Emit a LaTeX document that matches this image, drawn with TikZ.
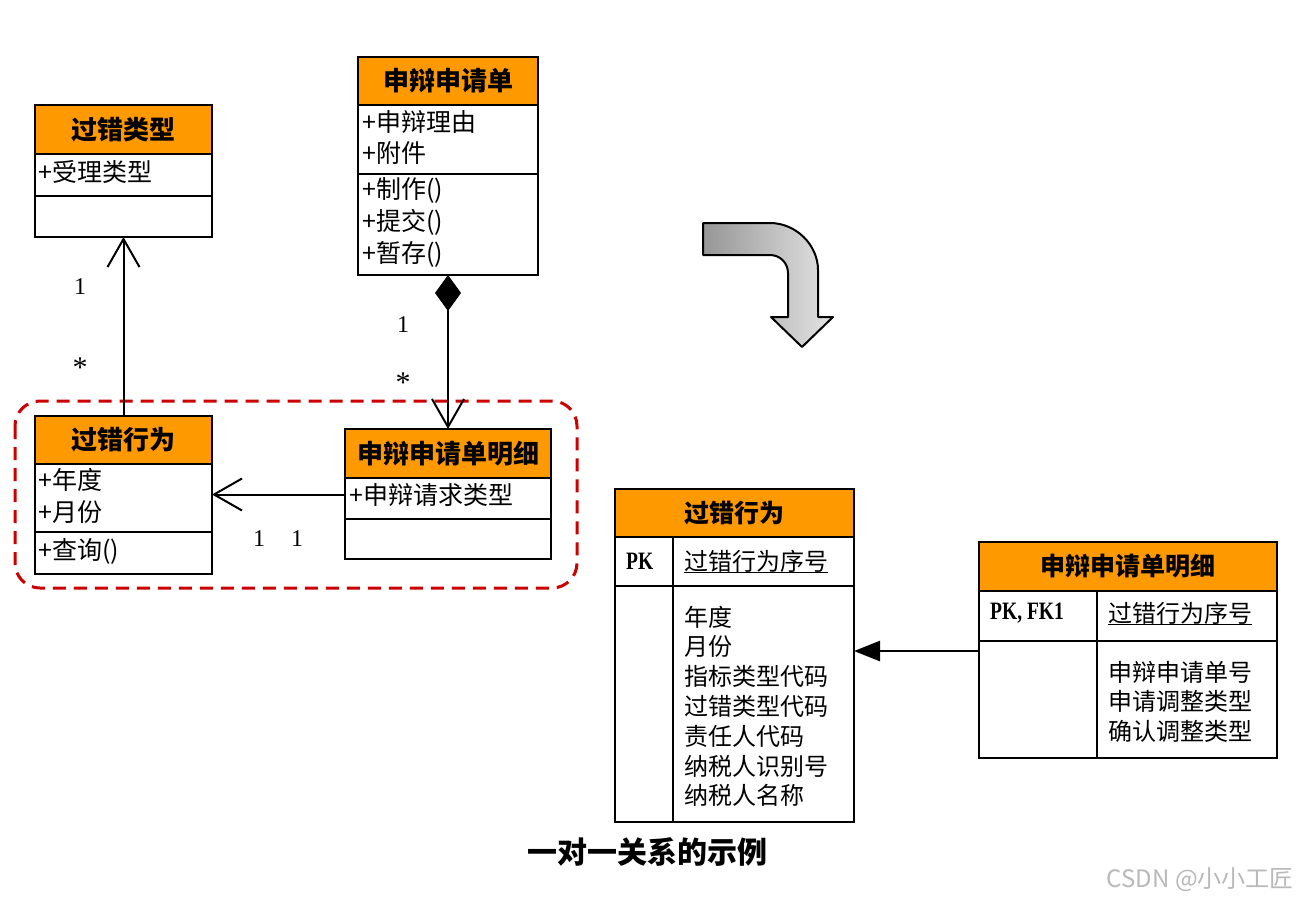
\documentclass[tikz,border=0pt]{standalone}
\usepackage{fontspec}
\setmainfont{Noto Sans CJK SC}
\newfontfamily\lat{Liberation Serif}
\usetikzlibrary{arrows.meta}
\definecolor{hdrorange}{RGB}{255,153,0}
\definecolor{dashred}{RGB}{204,0,0}
\definecolor{wmgray}{RGB}{185,185,185}
\definecolor{arrdark}{RGB}{150,150,150}
\definecolor{arrlight}{RGB}{228,228,228}
\tikzset{
  cbox/.style={draw, line width=2.5pt, fill=white, inner sep=0pt, outer sep=0pt, anchor=north west},
  hbox/.style={cbox, fill=hdrorange, font=\fontsize{26}{26}\selectfont\bfseries},
  tbox/.style={draw, line width=2pt, fill=white, inner sep=0pt, outer sep=0pt, anchor=north west},
  thbox/.style={tbox, fill=hdrorange, font=\fontsize{25}{25}\selectfont\bfseries},
  attr/.style={anchor=west, inner sep=0pt, font=\fontsize{25}{25}\selectfont},
  rowtxt/.style={anchor=west, inner sep=0pt, font=\fontsize{24}{24}\selectfont},
  mult/.style={inner sep=0pt, font=\lat\fontsize{24}{24}\selectfont},
  star/.style={inner sep=0pt, font=\lat\fontsize{30}{30}\selectfont},
  pk/.style={anchor=west, inner sep=0pt, xscale=0.78, font=\lat\bfseries\fontsize{25}{25}\selectfont},
  umlline/.style={line width=2pt},
  openhead/.style={-{Straight Barb[length=28pt,width=32pt]}},
}
\begin{document}
\begin{tikzpicture}[x=1pt,y=-1pt]
\fill[white] (0,0) rectangle (1298,902);
\useasboundingbox (0,0) rectangle (1298,902);

% dashed group
\draw[dashred, line width=3pt, dash pattern=on 13pt off 8pt, rounded corners=25pt] (15,401) rectangle (577,588);

% class A: 过错类型
\node[cbox, minimum width=177pt, minimum height=42pt] (A-a) at (35,154) {};
\node[cbox, minimum width=177pt, minimum height=41pt] (A-m) at (35,196) {};
\node[hbox, minimum width=177pt, minimum height=49pt] (A-h) at (35,105) {过错类型};
\node[attr] (A-t1) at (38,172) {+受理类型};

% class B: 申辩申请单
\node[cbox, minimum width=180pt, minimum height=69pt] (B-a) at (358,105) {};
\node[cbox, minimum width=180pt, minimum height=101pt] (B-m) at (358,174) {};
\node[hbox, minimum width=180pt, minimum height=48pt] (B-h) at (358,57) {申辩申请单};
\node[attr] (B-t1) at (362,122) {+申辩理由};
\node[attr] (B-t2) at (362,153) {+附件};
\node[attr] (B-t3) at (362,190) {+制作()};
\node[attr] (B-t4) at (362,222) {+提交()};
\node[attr] (B-t5) at (362,254) {+暂存()};

% class C: 过错行为
\node[cbox, minimum width=177pt, minimum height=68pt] (C-a) at (35,464) {};
\node[cbox, minimum width=177pt, minimum height=42pt] (C-m) at (35,532) {};
\node[hbox, minimum width=177pt, minimum height=48pt] (C-h) at (35,416) {过错行为};
\node[attr] (C-t1) at (38,480) {+年度};
\node[attr] (C-t2) at (38,512) {+月份};
\node[attr] (C-t3) at (38,551) {+查询()};

% class D: 申辩申请单明细
\node[cbox, minimum width=206pt, minimum height=41pt] (D-a) at (345,478) {};
\node[cbox, minimum width=206pt, minimum height=40pt] (D-m) at (345,519) {};
\node[hbox, minimum width=206pt, minimum height=49pt] (D-h) at (345,429) {申辩申请单明细};
\node[attr] (D-t1) at (349,495) {+申辩请求类型};

% UML connectors
\draw[umlline, openhead] (C-h.north) -- (C-h.north |- A-m.south);
\draw[umlline, {Diamond[length=36pt,width=26pt]}-{Straight Barb[length=28pt,width=32pt]}] (B-m.south) -- (B-m.south |- D-h.north);
\draw[umlline, openhead] ([yshift=4pt]D-a.west) -- ([yshift=4pt]D-a.west -| C-a.east);

% multiplicities
\node[mult] (m1) at (80,287) {1};
\node[star] (m2) at (80,368) {*};
\node[mult] (m3) at (403,325) {1};
\node[star] (m4) at (403,383) {*};
\node[mult] (m5) at (259,539) {1};
\node[mult] (m6) at (297,539) {1};

% curved arrow
\shade[draw=black, line width=2pt, line join=round, left color=arrdark, right color=arrlight]
  (703,223) -- (770,223) .. controls (796,223) and (818,245) .. (818,270)
  -- (818,317) -- (833,317) -- (802,347) -- (771,317) -- (788,317) -- (788,273)
  .. controls (788,263) and (780,255) .. (770,255) -- (703,255) -- cycle;

% table E: 过错行为
\node[thbox, minimum width=239pt, minimum height=48pt] (E-h) at (615,489) {过错行为};
\node[tbox, minimum width=58pt, minimum height=49pt] (E-k1) at (615,537) {};
\node[tbox, minimum width=181pt, minimum height=49pt] (E-k2) at (673,537) {};
\node[tbox, minimum width=58pt, minimum height=236pt] (E-b1) at (615,586) {};
\node[tbox, minimum width=181pt, minimum height=236pt] (E-b2) at (673,586) {};
\node[pk] (E-pk) at (626,561) {PK};
\node[rowtxt] (E-key) at (684,561) {过错行为序号};
\draw[line width=1.5pt] (E-key.south west) -- (E-key.south east);
\foreach \t [count=\i] in {年度,月份,指标类型代码,过错类型代码,责任人代码,纳税人识别号,纳税人名称}
  \node[rowtxt] (E-r\i) at (684,{617+29.8*(\i-1)}) {\t};

% table F: 申辩申请单明细
\node[thbox, minimum width=298pt, minimum height=49pt] (F-h) at (979,542) {申辩申请单明细};
\node[tbox, minimum width=118pt, minimum height=50pt] (F-k1) at (979,591) {};
\node[tbox, minimum width=180pt, minimum height=50pt] (F-k2) at (1097,591) {};
\node[tbox, minimum width=118pt, minimum height=117pt] (F-b1) at (979,641) {};
\node[tbox, minimum width=180pt, minimum height=117pt] (F-b2) at (1097,641) {};
\node[pk] (F-pk) at (990,613) {PK, FK1};
\node[rowtxt] (F-key) at (1108,613) {过错行为序号};
\draw[line width=1.5pt] (F-key.south west) -- (F-key.south east);
\foreach \t [count=\i] in {申辩申请单号,申请调整类型,确认调整类型}
  \node[rowtxt] (F-r\i) at (1108,{672+29.5*(\i-1)}) {\t};

% ER connector
\draw[line width=2.5pt, -{Triangle[length=26pt,width=20pt]}] ([yshift=-10pt]F-b1.north west) -- ([yshift=-10pt]F-b1.north west -| E-b2.east);

% caption and watermark
\node[font=\fontsize{30}{30}\selectfont\bfseries] (cap) at (647,852) {一对一关系的示例};
\node[anchor=east, inner sep=0pt, text=wmgray, font=\fontsize{24}{24}\selectfont] (wm) at (1294,880) {CSDN @小小工匠};
\end{tikzpicture}
\end{document}
